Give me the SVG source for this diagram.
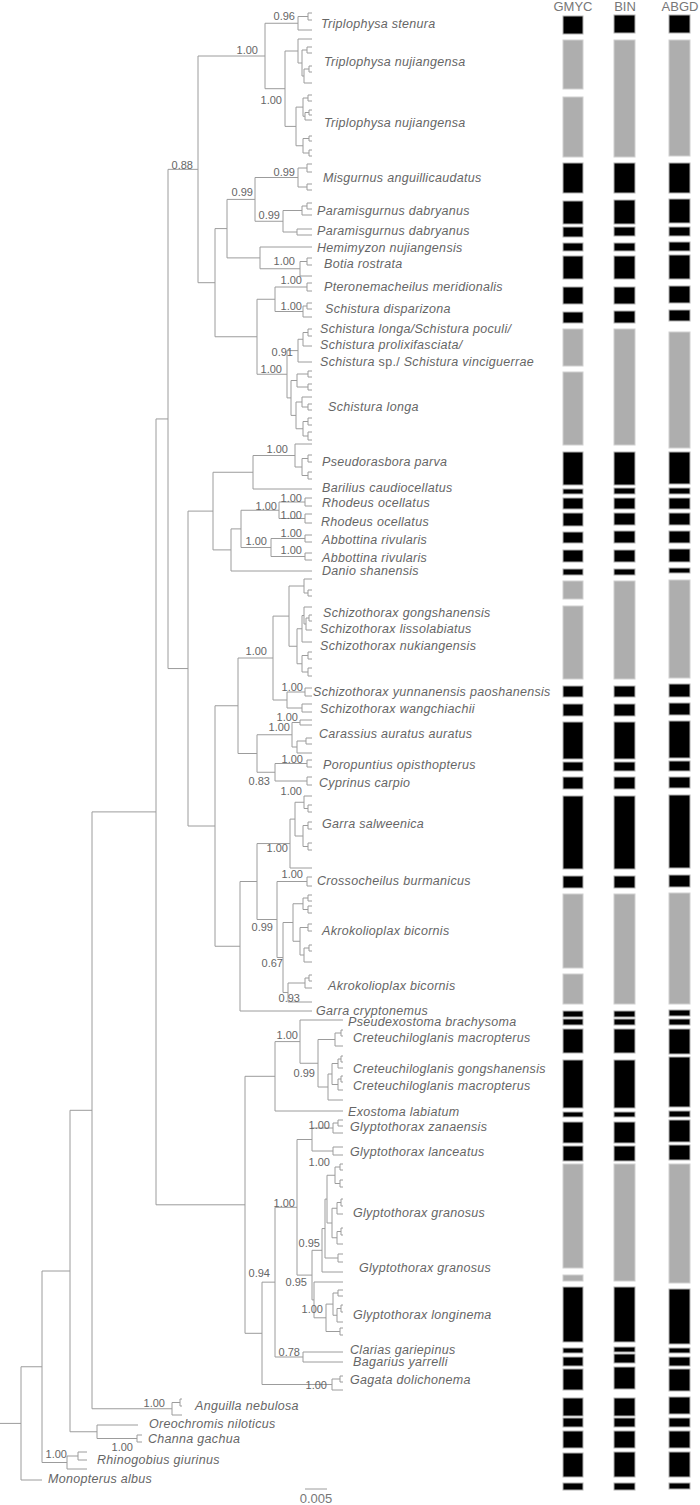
<svg xmlns="http://www.w3.org/2000/svg" width="700" height="1505" viewBox="0 0 700 1505">
<style>
.br{fill:none;stroke:#9c9c9c;stroke-width:1}
.tx{font-family:"Liberation Sans",Arial,sans-serif;font-style:italic;font-size:12.5px;fill:#666;letter-spacing:0.3px}
.sp{font-family:"Liberation Sans",Arial,sans-serif;font-size:11px;fill:#666;text-anchor:end}
.hd{font-family:"Liberation Sans",Arial,sans-serif;font-size:13px;fill:#777;text-anchor:middle}
.b{fill:#000;stroke:#b0b0b0;stroke-width:1}
.g{fill:#aeaeae;stroke:#d0d0d0;stroke-width:1}
</style>
<rect width="700" height="1505" fill="#fff"/>
<g id="connectors" class="br">
<path d="M312 13H308V20H312M308 16.5H298V30H312M312 66H309V72H312M309 69H304V83H312M312 47H307V53H312M307 50H302V76H304M312 39H298V63H302M312 95H308V101H312M312 110H309V115H312M309 112.5H305V120H312M308 98H303V116.25H305M312 136H309V141H312M312 150H309V156H312M309 138.5H303V153H309M303 107.1H296V145.75H303M298 51H285V126.4H296M298 23.25H265V88.7H285"/>
<path d="M312 164H307V172H312M312 184H307V190H312M307 168H298V187H307M312 203H307V209H312M307 206H302V215H312M312 229H297V235H312M302 210.5H283V232H297M298 177.5H255V221.25H283M312 258H307V265H312M307 261.5H300V276H312M312 247H260V268.75H300M255 199.4H227V257.9H260M312 283H307V291H312M312 303H307V309H312M307 306H303V317H312M307 287H275V311.5H303M312 329H308V336H312M308 332.5H303V346H312M303 339.25H298V362H312M312 371H308V377H312M312 384H308V390H312M308 374H297V387H308M312 404H308V410H312M312 397H302V407H308M312 418H308V425H312M312 432H308V440H312M308 421.5H303V436H308M302 402H296V428.75H303M297 380.5H291V415.4H296M298 350.6H287V397.9H291M275 299.25H257V374.25H287M227 228.6H215V336.75H257M265 56H198V282.7H215"/>
<path d="M312 455H308V462H312M312 472H308V479H312M308 458.5H302V475.5H308M312 444H295V467H302M295 455.5H253V489H312M312 498H305V506H312M312 514H305V523H312M305 502H279V518.5H305M312 535H305V542H312M312 553H305V560H312M305 538.5H271V556.5H305M279 510.25H241V547.5H271M241 528.9H231V571H312M253 472.25H213V549.9H231"/>
<path d="M312 590H308V596H312M312 579H304V593H308M312 615H309V621H312M309 618H306V630H312M312 607H304V624H306M304 615.5H302V642H312M312 652H308V659H312M312 668H308V676H312M308 655.5H302V672H308M302 628.75H297V663.75H302M304 586H289V646.25H297M312 688H305V696H312M312 704H302V712H312M305 692H287V708H302M289 616.1H273V700H287M312 720H300V725H312M312 738H306V744H312M306 741H297V753H312M300 722.5H292V747H297M312 760H307V767H312M312 777H307V785H312M307 763.5H275V781H307M292 734.75H257V772.25H275M273 658H238V753.5H257"/>
<path d="M312 805H308V812H312M312 796H304V808.5H308M312 822H308V829H312M312 843H308V850H312M308 825.5H303V846.5H308M304 802.25H295V836H303M295 819.1H290V868H312M312 877H307V886H312M312 895H308V901H312M312 906H308V913H312M308 898H303V909.5H308M312 945H309V951H312M309 948H304V962H312M312 924H308V931H312M308 927.5H300V955H304M303 903.75H293V941.25H300M312 975H309V981H312M309 978H305V988H312M305 983H288V1002H312M293 922.5H283V992.5H288M307 881.5H277V957.5H283M290 843.55H257V919.5H277M257 881.5H240V1011H312M238 705.75H215V946.25H240M213 511.1H188V826H215M198 169.35H168V668.55H188"/>
<path d="M343 1030H341V1036H343M341 1033H335V1046H343M343 1056H341V1062H343M341 1059H338V1068H343M343 1076H341V1082H343M341 1079H338V1090H343M338 1063.5H332V1084.5H338M332 1074H328V1100H343M335 1039.5H318V1087H328M343 1020H300V1063.25H318M300 1041.6H275V1111H343M343 1120H338V1126H343M338 1123H333V1133H343M343 1147H333V1155H343M333 1128H312V1151H333M343 1164H340V1170H343M343 1180H340V1187H343M340 1167H335V1183.5H340M343 1199H341V1206H343M341 1202.5H337V1214H343M343 1228H341V1235H343M341 1231.5H337V1244H343M337 1208.25H332V1237.75H337M335 1175.25H327V1223H332M343 1254H338V1262H343M327 1199.1H325V1258H338M325 1228.55H322V1272H343M343 1290H338V1296H343M343 1305H341V1312H343M341 1308.5H337V1322H343M338 1293H333V1315.25H337M343 1328H340V1335H343M333 1304.1H326V1331.5H340M343 1282H314V1317.8H326M322 1250.3H312V1299.9H314M312 1139.5H297V1275.1H312M343 1352H303V1362H343M297 1207.3H275V1357H303M343 1376H340V1382H343M340 1379H332V1390H343M275 1282.15H262V1384.5H332M275 1076.3H245V1333.3H262"/>
<path d="M168 418.95H156V1204.8H245M182 1399H180V1406H182M180 1402.5H172V1415H182M156 811.9H92V1408.75H172M142 1435H137V1442H142M138 1425H97V1438.5H137M92 1110.3H70V1431.75H97M87 1452H78V1460H87M78 1456H67V1469H87M70 1271H42V1462.5H67M42 1366.75H21V1480H42M0 1423.4H21"/>
<path d="M305 1489H327"/>
</g>
<g id="support">
<text class="sp" x="295" y="20">0.96</text>
<text class="sp" x="258" y="54">1.00</text>
<text class="sp" x="282" y="104">1.00</text>
<text class="sp" x="193" y="169">0.88</text>
<text class="sp" x="295" y="176">0.99</text>
<text class="sp" x="253" y="196">0.99</text>
<text class="sp" x="280" y="219">0.99</text>
<text class="sp" x="295" y="265">1.00</text>
<text class="sp" x="302" y="284">1.00</text>
<text class="sp" x="302" y="310">1.00</text>
<text class="sp" x="293" y="356">0.91</text>
<text class="sp" x="282" y="373">1.00</text>
<text class="sp" x="288" y="453">1.00</text>
<text class="sp" x="302" y="502">1.00</text>
<text class="sp" x="277" y="510">1.00</text>
<text class="sp" x="302" y="519">1.00</text>
<text class="sp" x="302" y="537">1.00</text>
<text class="sp" x="267" y="545">1.00</text>
<text class="sp" x="302" y="554">1.00</text>
<text class="sp" x="267" y="655">1.00</text>
<text class="sp" x="303" y="691">1.00</text>
<text class="sp" x="298" y="721">1.00</text>
<text class="sp" x="290" y="731">1.00</text>
<text class="sp" x="303" y="763">1.00</text>
<text class="sp" x="270" y="785">0.83</text>
<text class="sp" x="302" y="795">1.00</text>
<text class="sp" x="288" y="852">1.00</text>
<text class="sp" x="303" y="878">1.00</text>
<text class="sp" x="273" y="931">0.99</text>
<text class="sp" x="283" y="967">0.67</text>
<text class="sp" x="300" y="1002">0.93</text>
<text class="sp" x="298" y="1039">1.00</text>
<text class="sp" x="315" y="1077">0.99</text>
<text class="sp" x="330" y="1129">1.00</text>
<text class="sp" x="330" y="1166">1.00</text>
<text class="sp" x="295" y="1207">1.00</text>
<text class="sp" x="320" y="1247">0.95</text>
<text class="sp" x="270" y="1277">0.94</text>
<text class="sp" x="307" y="1286">0.95</text>
<text class="sp" x="323" y="1313">1.00</text>
<text class="sp" x="300" y="1356">0.78</text>
<text class="sp" x="327" y="1389">1.00</text>
<text class="sp" x="165" y="1407">1.00</text>
<text class="sp" x="133" y="1451">1.00</text>
<text class="sp" x="67" y="1458">1.00</text>
</g>
<g id="taxa" class="tx">
<g id="t01"><text x="321" y="28">Triplophysa stenura</text></g>
<g id="t02"><text x="324" y="66">Triplophysa nujiangensa</text></g>
<g id="t03"><text x="324" y="127">Triplophysa nujiangensa</text></g>
<g id="t04"><text x="323" y="182">Misgurnus anguillicaudatus</text></g>
<g id="t05"><text x="317" y="215">Paramisgurnus dabryanus</text></g>
<g id="t06"><text x="317" y="235">Paramisgurnus dabryanus</text></g>
<g id="t07"><text x="317" y="252">Hemimyzon nujiangensis</text></g>
<g id="t08"><text x="324" y="268">Botia rostrata</text></g>
<g id="t09"><text x="324" y="291">Pteronemacheilus meridionalis</text></g>
<g id="t10"><text x="325" y="313">Schistura disparizona</text></g>
<g id="t11"><text x="320" y="333">Schistura longa/Schistura poculi/</text></g>
<g id="t12"><text x="320" y="349">Schistura prolixifasciata/</text></g>
<g id="t13"><text x="320" y="366">Schistura <tspan font-style="normal">sp./</tspan> Schistura vinciguerrae</text></g>
<g id="t14"><text x="328" y="411">Schistura longa</text></g>
<g id="t15"><text x="322" y="466">Pseudorasbora parva</text></g>
<g id="t16"><text x="322" y="492">Barilius caudiocellatus</text></g>
<g id="t17"><text x="322" y="507">Rhodeus ocellatus</text></g>
<g id="t18"><text x="321" y="526">Rhodeus ocellatus</text></g>
<g id="t19"><text x="322" y="544">Abbottina rivularis</text></g>
<g id="t20"><text x="322" y="562">Abbottina rivularis</text></g>
<g id="t21"><text x="322" y="575">Danio shanensis</text></g>
<g id="t22"><text x="323" y="617">Schizothorax gongshanensis</text></g>
<g id="t23"><text x="320" y="633">Schizothorax lissolabiatus</text></g>
<g id="t24"><text x="320" y="650">Schizothorax nukiangensis</text></g>
<g id="t25"><text x="313" y="696">Schizothorax yunnanensis paoshanensis</text></g>
<g id="t26"><text x="320" y="713">Schizothorax wangchiachii</text></g>
<g id="t27"><text x="319" y="738">Carassius auratus auratus</text></g>
<g id="t28"><text x="323" y="769">Poropuntius opisthopterus</text></g>
<g id="t29"><text x="319" y="787">Cyprinus carpio</text></g>
<g id="t30"><text x="322" y="828">Garra salweenica</text></g>
<g id="t31"><text x="317" y="885">Crossocheilus burmanicus</text></g>
<g id="t32"><text x="322" y="935">Akrokolioplax bicornis</text></g>
<g id="t33"><text x="328" y="990">Akrokolioplax bicornis</text></g>
<g id="t34"><text x="316" y="1015">Garra cryptonemus</text></g>
<g id="t35"><text x="348" y="1026">Pseudexostoma brachysoma</text></g>
<g id="t36"><text x="353" y="1042">Creteuchiloglanis macropterus</text></g>
<g id="t37"><text x="353" y="1073">Creteuchiloglanis gongshanensis</text></g>
<g id="t38"><text x="353" y="1090">Creteuchiloglanis macropterus</text></g>
<g id="t39"><text x="348" y="1116">Exostoma labiatum</text></g>
<g id="t40"><text x="350" y="1131">Glyptothorax zanaensis</text></g>
<g id="t41"><text x="350" y="1156">Glyptothorax lanceatus</text></g>
<g id="t42"><text x="353" y="1217">Glyptothorax granosus</text></g>
<g id="t43"><text x="359" y="1272">Glyptothorax granosus</text></g>
<g id="t44"><text x="353" y="1319">Glyptothorax longinema</text></g>
<g id="t45"><text x="350" y="1354">Clarias gariepinus</text></g>
<g id="t46"><text x="353" y="1366">Bagarius yarrelli</text></g>
<g id="t47"><text x="350" y="1384">Gagata dolichonema</text></g>
<g id="t48"><text x="195" y="1410">Anguilla nebulosa</text></g>
<g id="t49"><text x="149" y="1428">Oreochromis niloticus</text></g>
<g id="t50"><text x="148" y="1443">Channa gachua</text></g>
<g id="t51"><text x="97" y="1464">Rhinogobius giurinus</text></g>
<g id="t52"><text x="48" y="1483">Monopterus albus</text></g>
</g>
<g id="scale"><text class="hd" x="316" y="1503" font-size="11px">0.005</text></g>
<g id="headers">
<text class="hd" x="573" y="11">GMYC</text>
<text class="hd" x="625" y="11">BIN</text>
<text class="hd" x="680" y="11">ABGD</text>
</g>
<g id="gmyc">
<rect class="b" x="563" y="16" width="20" height="18"/>
<rect class="g" x="563" y="40" width="20" height="49"/>
<rect class="g" x="563" y="97" width="20" height="60"/>
<rect class="b" x="563" y="163" width="20" height="30"/>
<rect class="b" x="563" y="201" width="20" height="23"/>
<rect class="b" x="563" y="227" width="20" height="10"/>
<rect class="b" x="563" y="243" width="20" height="8"/>
<rect class="b" x="563" y="256" width="20" height="23"/>
<rect class="b" x="563" y="287" width="20" height="17"/>
<rect class="b" x="563" y="312" width="20" height="11"/>
<rect class="g" x="563" y="329" width="20" height="37"/>
<rect class="g" x="563" y="372" width="20" height="73"/>
<rect class="b" x="563" y="452" width="20" height="33"/>
<rect class="b" x="563" y="489" width="20" height="5"/>
<rect class="b" x="563" y="498" width="20" height="11"/>
<rect class="b" x="563" y="513" width="20" height="13"/>
<rect class="b" x="563" y="532" width="20" height="11"/>
<rect class="b" x="563" y="550" width="20" height="12"/>
<rect class="b" x="563" y="569" width="20" height="6"/>
<rect class="g" x="563" y="581" width="20" height="18"/>
<rect class="g" x="563" y="606" width="20" height="73"/>
<rect class="b" x="563" y="686" width="20" height="11"/>
<rect class="b" x="563" y="704" width="20" height="12"/>
<rect class="b" x="563" y="722" width="20" height="37"/>
<rect class="b" x="563" y="762" width="20" height="9"/>
<rect class="b" x="563" y="777" width="20" height="12"/>
<rect class="b" x="563" y="796" width="20" height="73"/>
<rect class="b" x="563" y="876" width="20" height="12"/>
<rect class="g" x="563" y="894" width="20" height="74"/>
<rect class="g" x="563" y="974" width="20" height="30"/>
<rect class="b" x="563" y="1011" width="20" height="6"/>
<rect class="b" x="563" y="1019" width="20" height="6"/>
<rect class="b" x="563" y="1029" width="20" height="24"/>
<rect class="b" x="563" y="1060" width="20" height="48"/>
<rect class="b" x="563" y="1112" width="20" height="5"/>
<rect class="b" x="563" y="1122" width="20" height="21"/>
<rect class="b" x="563" y="1146" width="20" height="15"/>
<rect class="g" x="563" y="1164" width="20" height="104"/>
<rect class="g" x="563" y="1275" width="20" height="6"/>
<rect class="b" x="563" y="1287" width="20" height="55"/>
<rect class="b" x="563" y="1348" width="20" height="5"/>
<rect class="b" x="563" y="1357" width="20" height="9"/>
<rect class="b" x="563" y="1369" width="20" height="21"/>
<rect class="b" x="563" y="1398" width="20" height="18"/>
<rect class="b" x="563" y="1418" width="20" height="9"/>
<rect class="b" x="563" y="1431" width="20" height="17"/>
<rect class="b" x="563" y="1453" width="20" height="24"/>
<rect class="b" x="563" y="1483" width="20" height="7"/>
</g>
<g id="bin">
<rect class="b" x="614" y="15" width="21" height="18"/>
<rect class="g" x="614" y="40" width="21" height="117"/>
<rect class="b" x="614" y="163" width="21" height="30"/>
<rect class="b" x="614" y="200" width="21" height="24"/>
<rect class="b" x="614" y="227" width="21" height="9"/>
<rect class="b" x="614" y="243" width="21" height="8"/>
<rect class="b" x="614" y="256" width="21" height="23"/>
<rect class="b" x="614" y="287" width="21" height="17"/>
<rect class="b" x="614" y="311" width="21" height="12"/>
<rect class="g" x="614" y="329" width="21" height="116"/>
<rect class="b" x="614" y="452" width="21" height="33"/>
<rect class="b" x="614" y="488" width="21" height="6"/>
<rect class="b" x="614" y="498" width="21" height="11"/>
<rect class="b" x="614" y="513" width="21" height="12"/>
<rect class="b" x="614" y="531" width="21" height="12"/>
<rect class="b" x="614" y="550" width="21" height="12"/>
<rect class="b" x="614" y="569" width="21" height="6"/>
<rect class="g" x="614" y="581" width="21" height="98"/>
<rect class="b" x="614" y="686" width="21" height="11"/>
<rect class="b" x="614" y="704" width="21" height="12"/>
<rect class="b" x="614" y="722" width="21" height="37"/>
<rect class="b" x="614" y="762" width="21" height="9"/>
<rect class="b" x="614" y="777" width="21" height="12"/>
<rect class="b" x="614" y="796" width="21" height="73"/>
<rect class="b" x="614" y="876" width="21" height="12"/>
<rect class="g" x="614" y="894" width="21" height="110"/>
<rect class="b" x="614" y="1011" width="21" height="6"/>
<rect class="b" x="614" y="1019" width="21" height="6"/>
<rect class="b" x="614" y="1029" width="21" height="24"/>
<rect class="b" x="614" y="1060" width="21" height="48"/>
<rect class="b" x="614" y="1112" width="21" height="5"/>
<rect class="b" x="614" y="1122" width="21" height="21"/>
<rect class="b" x="614" y="1146" width="21" height="15"/>
<rect class="g" x="614" y="1164" width="21" height="117"/>
<rect class="b" x="614" y="1287" width="21" height="55"/>
<rect class="b" x="614" y="1347" width="21" height="5"/>
<rect class="b" x="614" y="1354" width="21" height="9"/>
<rect class="b" x="614" y="1367" width="21" height="22"/>
<rect class="b" x="614" y="1398" width="21" height="18"/>
<rect class="b" x="614" y="1418" width="21" height="9"/>
<rect class="b" x="614" y="1431" width="21" height="17"/>
<rect class="b" x="614" y="1452" width="21" height="25"/>
<rect class="b" x="614" y="1483" width="21" height="7"/>
</g>
<g id="abgd">
<rect class="b" x="669" y="15" width="21" height="18"/>
<rect class="g" x="669" y="40" width="21" height="116"/>
<rect class="b" x="669" y="163" width="21" height="30"/>
<rect class="b" x="669" y="199" width="21" height="24"/>
<rect class="b" x="669" y="227" width="21" height="9"/>
<rect class="b" x="669" y="242" width="21" height="9"/>
<rect class="b" x="669" y="255" width="21" height="24"/>
<rect class="b" x="669" y="286" width="21" height="17"/>
<rect class="b" x="669" y="310" width="21" height="11"/>
<rect class="g" x="669" y="332" width="21" height="116"/>
<rect class="b" x="669" y="452" width="21" height="32"/>
<rect class="b" x="669" y="488" width="21" height="6"/>
<rect class="b" x="669" y="498" width="21" height="11"/>
<rect class="b" x="669" y="513" width="21" height="12"/>
<rect class="b" x="669" y="531" width="21" height="12"/>
<rect class="b" x="669" y="549" width="21" height="13"/>
<rect class="b" x="669" y="568" width="21" height="5"/>
<rect class="g" x="669" y="580" width="21" height="98"/>
<rect class="b" x="669" y="684" width="21" height="13"/>
<rect class="b" x="669" y="703" width="21" height="12"/>
<rect class="b" x="669" y="721" width="21" height="37"/>
<rect class="b" x="669" y="761" width="21" height="10"/>
<rect class="b" x="669" y="777" width="21" height="11"/>
<rect class="b" x="669" y="795" width="21" height="73"/>
<rect class="b" x="669" y="875" width="21" height="12"/>
<rect class="g" x="669" y="893" width="21" height="111"/>
<rect class="b" x="669" y="1010" width="21" height="6"/>
<rect class="b" x="669" y="1019" width="21" height="6"/>
<rect class="b" x="669" y="1029" width="21" height="25"/>
<rect class="b" x="669" y="1057" width="21" height="50"/>
<rect class="b" x="669" y="1111" width="21" height="6"/>
<rect class="b" x="669" y="1120" width="21" height="22"/>
<rect class="b" x="669" y="1145" width="21" height="15"/>
<rect class="g" x="669" y="1164" width="21" height="119"/>
<rect class="b" x="669" y="1289" width="21" height="55"/>
<rect class="b" x="669" y="1348" width="21" height="5"/>
<rect class="b" x="669" y="1357" width="21" height="9"/>
<rect class="b" x="669" y="1369" width="21" height="22"/>
<rect class="b" x="669" y="1397" width="21" height="17"/>
<rect class="b" x="669" y="1418" width="21" height="9"/>
<rect class="b" x="669" y="1431" width="21" height="17"/>
<rect class="b" x="669" y="1452" width="21" height="25"/>
<rect class="b" x="669" y="1483" width="21" height="6"/>
</g>
</svg>
